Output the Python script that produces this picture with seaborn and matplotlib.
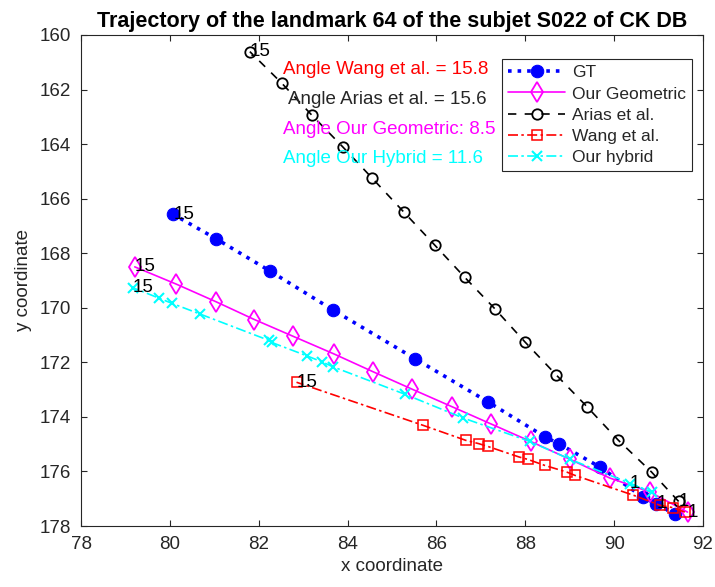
import matplotlib
matplotlib.use("Agg")
import matplotlib.pyplot as plt
import seaborn as sns
import numpy as np

# trajectories, frame 1 first ... frame 15 last
gt_x = [90.95, 91.36, 90.65, 89.68, 88.75, 88.45, 87.16, 85.51, 83.68, 82.25, 81.04, 80.08]
gt_y = [177.18, 177.55, 176.94, 175.84, 174.98, 174.74, 173.45, 171.86, 170.09, 168.65, 167.47, 166.58]

geo_x = [91.65, 90.80, 89.90, 89.00, 88.12, 87.23, 86.34, 85.46, 84.58, 83.69, 82.78, 81.90, 81.04, 80.14, 79.21]
geo_y = [177.49, 176.75, 176.24, 175.55, 174.90, 174.26, 173.62, 172.99, 172.35, 171.69, 171.05, 170.43, 169.78, 169.13, 168.50]

arias_x = [91.45, 90.84, 90.09, 89.39, 88.70, 87.99, 87.31, 86.64, 85.96, 85.27, 84.56, 83.89, 83.19, 82.52, 81.80]
arias_y = [177.10, 176.02, 174.85, 173.63, 172.47, 171.25, 170.03, 168.89, 167.70, 166.50, 165.26, 164.10, 162.93, 161.77, 160.61]

wang_x = [91.59, 91.33, 91.03, 90.43, 89.11, 88.93, 88.44, 88.06, 87.86, 87.15, 86.95, 86.66, 85.70, 82.85]
wang_y = [177.49, 177.33, 177.24, 176.87, 176.14, 176.02, 175.78, 175.56, 175.47, 175.08, 174.98, 174.86, 174.31, 172.73]

hyb_x = [90.35, 90.84, 89.00, 88.10, 86.60, 85.29, 83.68, 83.42, 83.08, 82.29, 82.22, 80.68, 80.05, 79.76, 79.16]
hyb_y = [176.45, 176.75, 175.55, 174.90, 174.04, 173.17, 172.17, 171.98, 171.76, 171.27, 171.19, 170.23, 169.84, 169.65, 169.26]

angle_texts = ["Angle Wang et al. = 15.8", "Angle Arias et al. = 15.6",
               "Angle Our Geometric: 8.5", "Angle Our Hybrid = 11.6"]
angle_colors = ["#FF0000", "#262626", "#FF00FF", "#00FFFF"]
angle_x = [82.55, 82.66, 82.55, 82.55]
angle_y = [161.26, 162.38, 163.45, 164.52]

sns.set_theme(style="white")
plt.rcParams['font.family'] = ['Liberation Sans', 'DejaVu Sans']

fig = plt.figure(figsize=(7.15, 5.87), dpi=100)
ax = fig.add_axes([0.1133, 0.1039, 0.870, 0.8365])

series = [
    (gt_x, gt_y, "GT", dict(color="#0000FF", linestyle=":", linewidth=2.6, marker="o",
                             markersize=9, markerfacecolor="#0000FF", markeredgecolor="#0000FF")),
    (geo_x, geo_y, "Our Geometric", dict(color="#FF00FF", linestyle="-", linewidth=1.2, marker="d",
                                         markersize=10, markerfacecolor="none", markeredgecolor="#FF00FF",
                                         markeredgewidth=1.3)),
    (arias_x, arias_y, "Arias et al.", dict(color="black", linestyle=(0, (5, 5)), linewidth=1.2, marker="o",
                                            markersize=7.5, markerfacecolor="none", markeredgecolor="black",
                                            markeredgewidth=1.3)),
    (wang_x, wang_y, "Wang et al.", dict(color="#FF0000", linestyle=(0, (6, 2, 1.5, 2)), linewidth=1.2, marker="s",
                                         markersize=7.5, markerfacecolor="none", markeredgecolor="#FF0000",
                                         markeredgewidth=1.1)),
    (hyb_x, hyb_y, "Our hybrid", dict(color="#00FFFF", linestyle=(0, (6, 2, 1.5, 2)), linewidth=1.2, marker="x",
                                      markersize=7, markeredgecolor="#00FFFF", markeredgewidth=1.5)),
]

for xs, ys, name, kw in series:
    sns.lineplot(x=xs, y=ys, sort=False, estimator=None, label=name, ax=ax, **kw)
    # frame numbers at start and end
    ax.text(xs[-1], ys[-1], "15", fontsize=13.5, color="black", ha="left", va="center")
for xs, ys, name, kw in series[:3] + series[4:]:
    ax.text(xs[0], ys[0], "1", fontsize=13.5, color="black", ha="left", va="center")

for t, c, tx, ty in zip(angle_texts, angle_colors, angle_x, angle_y):
    ax.text(tx, ty, t, color=c, fontsize=13.5, ha="left", va="center")

ax.set_xlim(78, 92)
ax.set_ylim(178, 160)
ax.set_xticks(np.arange(78, 93, 2))
ax.set_yticks(np.arange(160, 179, 2))
ax.tick_params(direction="in", length=4, width=0.8, colors="#262626", labelsize=13.5,
               top=True, right=True, bottom=True, left=True, pad=7)
for s in ax.spines.values():
    s.set_color("#262626")
    s.set_linewidth(0.8)

ax.set_xlabel("x coordinate", fontsize=13.5, color="#262626", labelpad=4)
ax.set_ylabel("y coordinate", fontsize=13.5, color="#262626", labelpad=6)
ax.set_title("Trajectory of the landmark 64 of the subjet S022 of CK DB",
             fontsize=15.5, fontweight="bold", color="black", pad=6)

leg = ax.legend(loc="upper right", bbox_to_anchor=(0.983, 0.951), borderaxespad=0,
                fancybox=False, frameon=True, edgecolor="#262626", fontsize=12.5,
                handlelength=3.3, handletextpad=0.4, labelspacing=0.35, borderpad=0.35)
leg.get_frame().set_linewidth(0.8)
leg.get_frame().set_alpha(1)

fig.savefig("out.png", dpi=100)
